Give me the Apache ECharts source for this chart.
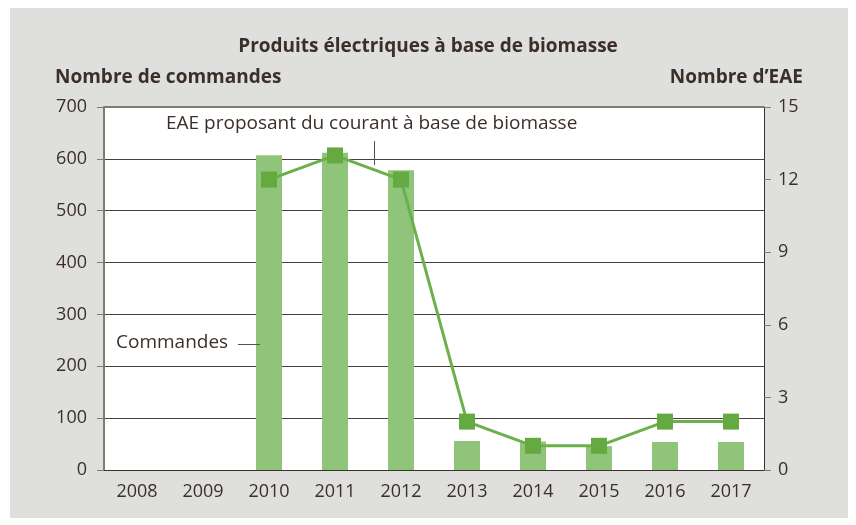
<!DOCTYPE html>
<html><head><meta charset="utf-8">
<script src="https://cdn.jsdelivr.net/npm/echarts@6/dist/echarts.min.js"></script>
<style>
html,body{margin:0;padding:0;background:#fff;}
#bg{position:absolute;left:10px;top:8px;width:838px;height:510px;background:#dfdfde;}
#chart{position:absolute;left:0;top:0;width:856px;height:525px;}
</style></head>
<body><div id="bg"></div><div id="chart"></div>
<script>
const years = ['2008','2009','2010','2011','2012','2013','2014','2015','2016','2017'];
const commandes = [0, 0, 607, 612, 578, 56, 55, 46, 54, 54];
const eae = [null, null, 12, 13, 12, 2, 1, 1, 2, 2];
const leftTicks = [0,100,200,300,400,500,600,700];
const rightTicks = [0,3,6,9,12,15];

const FONT = 'Open Sans';
const TXT = '#3b2f29';
const chart = echarts.init(document.getElementById('chart'), null, {renderer:'canvas'});
chart.setOption({
  backgroundColor: 'transparent',
  animation: false,
  textStyle: {fontFamily: FONT, color: TXT},
  title: {
    text: 'Produits électriques à base de biomasse',
    left: 'center', top: 32,
    textStyle: {fontFamily: FONT, fontSize: 19, fontWeight: 'bold', color: TXT}
  },
  grid: {left: 104, top: 107, width: 660, height: 363, show: true, backgroundColor: '#fff', borderWidth: 0},
  xAxis: {
    type: 'category', data: years,
    axisLine: {show: true, lineStyle: {color: '#3b2f29', width: 1}},
    axisTick: {show: false},
    axisLabel: {fontSize: 18, color: TXT, margin: 13, fontFamily: FONT}
  },
  yAxis: [{
    type: 'value', min: leftTicks[0], max: leftTicks[leftTicks.length-1], interval: 100,
    name: 'Nombre de commandes', nameLocation: 'end', nameGap: 20,
    nameTextStyle: {fontSize: 19, fontWeight: 'bold', color: TXT, align: 'left', padding: [0,0,0,-49]},
    axisLine: {show: true, lineStyle: {color: '#817976', width: 2}},
    axisTick: {show: true, length: 7, lineStyle: {color: '#817976'}},
    axisLabel: {fontSize: 18, color: TXT, margin: 17},
    splitLine: {show: true, lineStyle: {color: '#4a3f3a', width: 1}}
  },{
    type: 'value', min: rightTicks[0], max: rightTicks[rightTicks.length-1], interval: 3,
    name: 'Nombre d’EAE', nameLocation: 'end', nameGap: 20,
    nameTextStyle: {fontSize: 19, fontWeight: 'bold', color: TXT, align: 'right', padding: [0,-39,0,0]},
    axisLine: {show: true, lineStyle: {color: '#3b2f29', width: 1}},
    axisTick: {show: true, length: 7, lineStyle: {color: '#817976'}},
    axisLabel: {fontSize: 18, color: TXT, margin: 14},
    splitLine: {show: false}
  }],
  series: [{
    type: 'bar', name: 'Commandes', data: commandes, barWidth: 26, yAxisIndex: 0,
    itemStyle: {color: '#8fc47a'}, z: 2
  },{
    type: 'line', name: 'EAE', data: eae, yAxisIndex: 1,
    symbol: 'rect', symbolSize: 16, showSymbol: true,
    lineStyle: {color: '#6bb04a', width: 3},
    itemStyle: {color: '#64aa41'}, z: 3
  }],
  graphic: [
    {type: 'rect', shape: {x: 104, y: 106, width: 660, height: 2}, style: {fill: '#817976'}, z: 10},
    {type: 'text', left: 166, top: 114, style: {text: 'EAE proposant du courant à base de biomasse', font: '19px "Open Sans"', fill: TXT}, z: 10},
    {type: 'line', shape: {x1: 374.5, y1: 141, x2: 374.5, y2: 165}, style: {stroke: '#5a504b', lineWidth: 1}, z: 10},
    {type: 'text', left: 116, top: 333, style: {text: 'Commandes', font: '19px "Open Sans"', fill: TXT}, z: 10},
    {type: 'line', shape: {x1: 238, y1: 344.5, x2: 260, y2: 344.5}, style: {stroke: '#5a504b', lineWidth: 1}, z: 10}
  ]
});
</script></body></html>
